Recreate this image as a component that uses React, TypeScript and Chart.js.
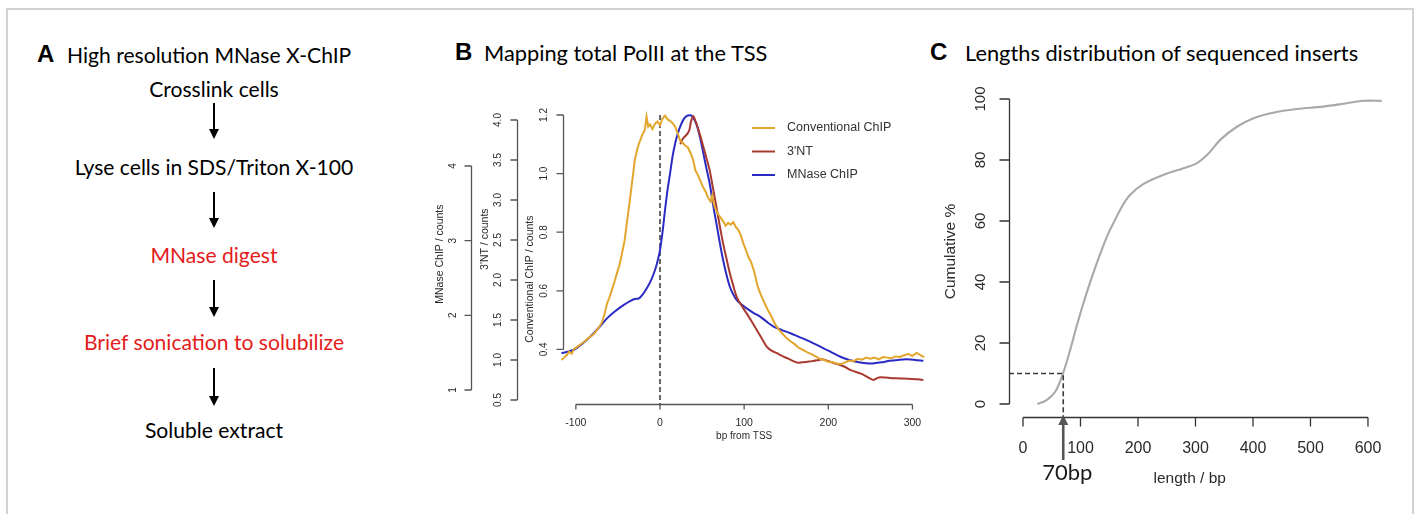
import React, { useEffect, useRef } from "react";
import { Chart, registerables } from "chart.js";

Chart.register(...registerables);

// ---------- Panel B data (bp from TSS, conventional-ChIP-scaled counts) ----------
const conventionalBp = [-117, -114, -111, -108, -105, -102, -99, -96, -93, -90, -87, -84, -81, -78, -75, -72, -69, -66, -63, -60, -57, -54, -51, -48, -45, -42, -39, -36, -33, -30, -27, -24, -21, -18, -16, -14, -12, -9, -6, -3, 0, 3, 6, 9, 12, 15, 18, 21, 24, 27, 30, 33, 36, 39, 42, 45, 48, 51, 54, 57, 60, 62, 64, 66, 69, 72, 75, 78, 81, 84, 87, 90, 93, 96, 99, 102, 105, 108, 112, 116, 120, 124, 128, 132, 136, 140, 145, 150, 155, 160, 165, 170, 175, 180, 185, 190, 195, 200, 205, 210, 215, 220, 225, 230, 235, 240, 245, 250, 255, 260, 265, 270, 275, 280, 285, 290, 295, 300, 305, 310, 314];
const conventionalCounts = [0.364, 0.372, 0.38, 0.392, 0.385, 0.402, 0.408, 0.414, 0.42, 0.426, 0.434, 0.441, 0.447, 0.455, 0.466, 0.478, 0.492, 0.52, 0.556, 0.578, 0.605, 0.632, 0.662, 0.69, 0.73, 0.773, 0.84, 0.905, 0.975, 1.045, 1.085, 1.11, 1.132, 1.15, 1.194, 1.16, 1.168, 1.152, 1.17, 1.178, 1.165, 1.188, 1.198, 1.185, 1.18, 1.172, 1.16, 1.138, 1.112, 1.105, 1.095, 1.09, 1.072, 1.05, 1.012, 0.995, 0.975, 0.955, 0.94, 0.918, 0.905, 0.925, 0.895, 0.88, 0.862, 0.85, 0.838, 0.822, 0.832, 0.826, 0.835, 0.818, 0.808, 0.79, 0.762, 0.74, 0.715, 0.7, 0.665, 0.615, 0.585, 0.56, 0.535, 0.515, 0.49, 0.472, 0.455, 0.44, 0.428, 0.418, 0.405, 0.398, 0.39, 0.384, 0.376, 0.368, 0.364, 0.358, 0.356, 0.352, 0.35, 0.356, 0.362, 0.36, 0.368, 0.365, 0.372, 0.368, 0.372, 0.366, 0.374, 0.372, 0.37, 0.376, 0.374, 0.38, 0.384, 0.378, 0.388, 0.38, 0.374];

const threeNTBp = [24, 27, 30, 33, 35, 37, 39.6, 42, 44, 48, 51.5, 55, 59, 63, 67, 71, 75, 79, 83, 87, 91, 95, 99, 103, 109, 115, 121, 127, 133, 139, 145, 151, 157, 163, 169, 175, 181, 187, 193, 197, 202, 208, 214, 220, 226, 232, 238, 244, 250, 254, 258, 262, 268, 275, 285, 295, 305, 313];
const threeNTCounts = [1.1, 1.118, 1.128, 1.138, 1.15, 1.18, 1.197, 1.18, 1.165, 1.128, 1.092, 1.055, 1.012, 0.95, 0.887, 0.822, 0.762, 0.71, 0.66, 0.618, 0.58, 0.558, 0.54, 0.523, 0.495, 0.466, 0.437, 0.409, 0.395, 0.387, 0.378, 0.37, 0.362, 0.355, 0.356, 0.358, 0.36, 0.363, 0.366, 0.363, 0.358, 0.352, 0.347, 0.34, 0.33, 0.324, 0.318, 0.31, 0.3, 0.296, 0.302, 0.305, 0.304, 0.302, 0.301, 0.3, 0.298, 0.296];

const mnaseBp = [-117, -110, -103, -93, -83, -73, -63, -53, -43, -35, -30, -25, -20, -15, -10, -6, -3, 0, 3, 6, 9, 12, 15, 18, 21, 24, 28, 32, 36, 38, 41, 44, 48, 51.5, 55, 59, 63, 67, 71, 75, 79, 83, 87, 91, 97, 103, 111, 119, 127, 135, 145, 155, 165, 175, 185, 195, 205, 215, 225, 235, 245, 253, 263, 273, 283, 293, 303, 313];
const mnaseCounts = [0.387, 0.392, 0.398, 0.418, 0.443, 0.473, 0.506, 0.531, 0.552, 0.566, 0.572, 0.574, 0.59, 0.612, 0.64, 0.67, 0.7, 0.739, 0.8, 0.876, 0.945, 1.001, 1.06, 1.103, 1.135, 1.16, 1.185, 1.197, 1.199, 1.196, 1.183, 1.163, 1.118, 1.069, 1.02, 0.967, 0.895, 0.83, 0.765, 0.705, 0.655, 0.614, 0.588, 0.569, 0.553, 0.54, 0.525, 0.512, 0.494, 0.478, 0.466, 0.455, 0.443, 0.431, 0.417, 0.403, 0.388, 0.374, 0.364, 0.357, 0.353, 0.352, 0.356, 0.361, 0.364, 0.366, 0.364, 0.361];

const seriesLabels = ["Conventional ChIP", "3'NT", "MNase ChIP"];
const seriesColors = ["#e3a62c", "#a83a30", "#2b2bc4"];

// Tick labels for panel B
const bpTicks = [-100, 0, 100, 200, 300];
const conventionalTicks = [0.4, 0.6, 0.8, 1.0, 1.2];
const threeNTTicks = [0.5, 1.0, 1.5, 2.0, 2.5, 3.0, 3.5, 4.0];
const mnaseTicks = [1, 2, 3, 4];
const tssMarkBp = 0;
const tssMarkTop = 1.2;

// ---------- Panel C data ----------
const lengthBp = [25, 41, 56, 69, 82, 93, 105, 122, 140, 151, 157, 172, 186, 209, 244, 279, 302, 320, 343, 372, 401, 435, 476, 522, 563, 592, 624];
const cumulativePct = [0, 1.3, 4.0, 9.7, 17.7, 25.3, 33.0, 42.8, 52.1, 57.0, 59.2, 64.7, 68.5, 72.1, 75.1, 77.3, 78.9, 81.6, 86.6, 90.9, 93.7, 95.5, 96.7, 97.5, 98.6, 99.4, 99.4];
const lengthTicks = [0, 100, 200, 300, 400, 500, 600];
const pctTicks = [0, 20, 40, 60, 80, 100];
const cutoffBp = 70;
const cutoffPct = 10;
const cutoffLabel = "70bp";

const fmt1 = (v: number) => v.toFixed(1);
const fmt0 = (v: number) => String(v);

// R-style axes drawn through the chart's own scales
const rAxesPlugin = {
  id: "rAxes",
  afterDraw(chart: any, _args: any, opts: any) {
    const ctx = chart.ctx as CanvasRenderingContext2D;
    const ca = chart.chartArea;
    ctx.save();
    for (const a of opts.axes || []) {
      const s = chart.scales[a.scale];
      const px = a.ticks.map((v: number) => s.getPixelForValue(v));
      ctx.strokeStyle = a.lineColor || "#555";
      ctx.lineWidth = a.lineWidth || 1.3;
      ctx.fillStyle = a.textColor || "#2a2a2a";
      if (a.side === "left") {
        const x = Math.round(ca.left + a.offset) + 0.5;
        ctx.beginPath();
        ctx.moveTo(x, Math.min(...px));
        ctx.lineTo(x, Math.max(...px));
        for (const p of px) {
          ctx.moveTo(x, p);
          ctx.lineTo(x - a.tickLen, p);
        }
        ctx.stroke();
        ctx.font = a.font;
        ctx.textAlign = "center";
        ctx.textBaseline = "middle";
        a.ticks.forEach((v: number, i: number) => {
          ctx.save();
          ctx.translate(x - a.labelGap, px[i]);
          ctx.rotate(-Math.PI / 2);
          ctx.fillText(a.format(v), 0, 0);
          ctx.restore();
        });
        if (a.title) {
          ctx.font = a.titleFont;
          ctx.save();
          ctx.translate(x - a.titleGap, s.getPixelForValue(a.titleAt));
          ctx.rotate(-Math.PI / 2);
          ctx.fillText(a.title, 0, 0);
          ctx.restore();
        }
      } else {
        const y = Math.round(ca.bottom + a.offset) + 0.5;
        ctx.beginPath();
        ctx.moveTo(Math.min(...px), y);
        ctx.lineTo(Math.max(...px), y);
        for (const p of px) {
          ctx.moveTo(p, y);
          ctx.lineTo(p, y + a.tickLen);
        }
        ctx.stroke();
        ctx.font = a.font;
        ctx.textAlign = "center";
        ctx.textBaseline = "middle";
        a.ticks.forEach((v: number, i: number) => {
          ctx.fillText(a.format(v), px[i], y + a.labelGap);
        });
        if (a.title) {
          ctx.font = a.titleFont;
          ctx.fillText(a.title, s.getPixelForValue(a.titleAt), y + a.titleGap);
        }
      }
    }
    ctx.restore();
  },
};

const rLegendPlugin = {
  id: "rLegend",
  afterDraw(chart: any, _args: any, opts: any) {
    if (!opts || !opts.show) return;
    const ctx = chart.ctx as CanvasRenderingContext2D;
    const ca = chart.chartArea;
    ctx.save();
    ctx.font = opts.font;
    ctx.textBaseline = "middle";
    ctx.textAlign = "left";
    chart.data.datasets.forEach((ds: any, i: number) => {
      const y = ca.top + opts.top + i * opts.rowGap;
      const x0 = ca.right + opts.right;
      ctx.strokeStyle = ds.borderColor;
      ctx.lineWidth = 2;
      ctx.beginPath();
      ctx.moveTo(x0, y);
      ctx.lineTo(x0 + opts.lineLen, y);
      ctx.stroke();
      ctx.fillStyle = opts.color;
      ctx.fillText(ds.label, x0 + opts.lineLen + opts.textGap, y);
    });
    ctx.restore();
  },
};

const tssLinePlugin = {
  id: "tssLine",
  beforeDatasetsDraw(chart: any) {
    const ctx = chart.ctx as CanvasRenderingContext2D;
    const x = chart.scales.x.getPixelForValue(tssMarkBp);
    const yTop = chart.scales.y.getPixelForValue(tssMarkTop);
    ctx.save();
    ctx.strokeStyle = "#444";
    ctx.lineWidth = 1.6;
    ctx.setLineDash([5, 3]);
    ctx.beginPath();
    ctx.moveTo(x, yTop);
    ctx.lineTo(x, chart.chartArea.bottom);
    ctx.stroke();
    ctx.restore();
  },
};

const cutoffPlugin = {
  id: "cutoff",
  afterDraw(chart: any) {
    const ctx = chart.ctx as CanvasRenderingContext2D;
    const ca = chart.chartArea;
    const x = chart.scales.x.getPixelForValue(cutoffBp);
    const y = chart.scales.y.getPixelForValue(cutoffPct);
    const axisY = ca.bottom + 7;
    ctx.save();
    ctx.strokeStyle = "#3a3a3a";
    ctx.lineWidth = 1.6;
    ctx.setLineDash([5, 3]);
    ctx.beginPath();
    ctx.moveTo(ca.left, y);
    ctx.lineTo(x, y);
    ctx.lineTo(x, axisY);
    ctx.stroke();
    ctx.setLineDash([]);
    // arrow
    ctx.strokeStyle = "#555";
    ctx.fillStyle = "#555";
    ctx.lineWidth = 2.6;
    ctx.beginPath();
    ctx.moveTo(x, axisY + 43);
    ctx.lineTo(x, axisY + 6);
    ctx.stroke();
    ctx.beginPath();
    ctx.moveTo(x, axisY - 2);
    ctx.lineTo(x - 5, axisY + 8);
    ctx.lineTo(x + 5, axisY + 8);
    ctx.closePath();
    ctx.fill();
    ctx.fillStyle = "#1a1a1a";
    ctx.font = "22px Lato";
    ctx.textAlign = "center";
    ctx.textBaseline = "alphabetic";
    ctx.fillText(cutoffLabel, x + 4, axisY + 63);
    ctx.restore();
  },
};

function PanelB() {
  const ref = useRef<HTMLCanvasElement>(null);
  useEffect(() => {
    const zip = (xs: number[], ys: number[]) => xs.map((x, i) => ({ x, y: ys[i] }));
    const f = (n: number) => `${n}px 'Liberation Sans', Arial`;
    const chart = new Chart(ref.current!, {
      type: "line",
      data: {
        datasets: [
          { label: seriesLabels[0], data: zip(conventionalBp, conventionalCounts), borderColor: seriesColors[0], borderWidth: 2, pointRadius: 0, tension: 0 },
          { label: seriesLabels[1], data: zip(threeNTBp, threeNTCounts), borderColor: seriesColors[1], borderWidth: 2, pointRadius: 0, tension: 0.3 },
          { label: seriesLabels[2], data: zip(mnaseBp, mnaseCounts), borderColor: seriesColors[2], borderWidth: 2, pointRadius: 0, tension: 0.3 },
        ],
      },
      options: {
        responsive: false,
        animation: false,
        events: [],
        layout: { padding: { left: 141, right: 14, top: 18, bottom: 56 } },
        scales: {
          x: { type: "linear", min: -117.65, max: 316.1, display: false },
          y: { type: "linear", min: 0.2137, max: 1.2239, display: false },
          y2: { type: "linear", min: 0.45, max: 4.15, display: false },
          y3: { type: "linear", min: 0.8125, max: 4.777, display: false },
        },
        plugins: {
          legend: { display: false },
          tooltip: { enabled: false },
          rLegend: { show: true, font: f(12.5), color: "#333", top: 20, rowGap: 23.5, right: -174, lineLen: 23, textGap: 12 },
          rAxes: {
            axes: [
              { scale: "x", side: "bottom", offset: 0, tickLen: 5, ticks: bpTicks, format: fmt0, labelGap: 19, font: f(10.5), title: "bp from TSS", titleAt: 100, titleGap: 32, titleFont: f(10) },
              { scale: "y", side: "left", offset: 2, tickLen: 7, ticks: conventionalTicks, format: fmt1, labelGap: 19, font: f(10), title: "Conventional ChIP / counts", titleAt: 0.64, titleGap: 33, titleFont: f(10.5) },
              { scale: "y2", side: "left", offset: -44, tickLen: 7, ticks: threeNTTicks, format: fmt1, labelGap: 19, font: f(10), title: "3'NT / counts", titleAt: 2.51, titleGap: 32, titleFont: f(10.5) },
              { scale: "y3", side: "left", offset: -90, tickLen: 7, ticks: mnaseTicks, format: fmt0, labelGap: 18, font: f(10), title: "MNase ChIP / counts", titleAt: 2.82, titleGap: 31, titleFont: f(10.5) },
            ],
          },
        } as any,
      },
      plugins: [tssLinePlugin, rAxesPlugin, rLegendPlugin],
    });
    return () => chart.destroy();
  }, []);
  return <canvas ref={ref} width={520} height={370} style={{ position: "absolute", left: 420, top: 90 }} />;
}

function PanelC() {
  const ref = useRef<HTMLCanvasElement>(null);
  useEffect(() => {
    const chart = new Chart(ref.current!, {
      type: "line",
      data: {
        datasets: [
          { label: "Cumulative %", data: lengthBp.map((x, i) => ({ x, y: cumulativePct[i] })), borderColor: "#a9a9a9", borderWidth: 2.1, pointRadius: 0, tension: 0.35 },
        ],
      },
      options: {
        responsive: false,
        animation: false,
        events: [],
        layout: { padding: { left: 79, right: 10, top: 15, bottom: 90 } },
        scales: {
          x: { type: "linear", min: -24.35, max: 638.3, display: false },
          y: { type: "linear", min: -1.967, max: 101.31, display: false },
        },
        plugins: {
          legend: { display: false },
          tooltip: { enabled: false },
          rAxes: {
            axes: [
              { scale: "x", side: "bottom", offset: 7, tickLen: 9, ticks: lengthTicks, format: fmt0, labelGap: 31, font: "16px 'Liberation Sans', Arial", title: "length / bp", titleAt: 290, titleGap: 61, titleFont: "15.5px 'Liberation Sans', Arial", lineColor: "#333" },
              { scale: "y", side: "left", offset: 0, tickLen: 10, ticks: pctTicks, format: fmt0, labelGap: 29, font: "15px 'Liberation Sans', Arial", title: "Cumulative %", titleAt: 50, titleGap: 59, titleFont: "15.5px 'Liberation Sans', Arial", lineColor: "#333" },
            ],
          },
        } as any,
      },
      plugins: [rAxesPlugin, cutoffPlugin],
    });
    return () => chart.destroy();
  }, []);
  return <canvas ref={ref} width={470} height={420} style={{ position: "absolute", left: 930, top: 80 }} />;
}

function Arrow({ x, y1, y2 }: { x: number; y1: number; y2: number }) {
  return (
    <g>
      <line x1={x} y1={y1} x2={x} y2={y2 - 8} stroke="#000" strokeWidth={2} />
      <polygon points={`${x - 5},${y2 - 10} ${x + 5},${y2 - 10} ${x},${y2}`} fill="#000" />
    </g>
  );
}

export default function App() {
  const txt = { fontFamily: "Lato, 'Open Sans', sans-serif", fontSize: 21.1 } as const;
  const head = { fontFamily: "Lato, 'Open Sans', sans-serif", fontSize: 21.8 } as const;
  const big = { fontFamily: "'Liberation Sans', Arial, sans-serif", fontSize: 24, fontWeight: 700 } as const;
  return (
    <div style={{ position: "absolute", left: 0, top: 0, width: 1414, height: 514, background: "#fff", overflow: "hidden" }}>
      <div style={{ position: "absolute", left: 6, top: 8, width: 1404, height: 520, border: "2px solid #d2d2d2" }} />
      <svg width={1414} height={514} style={{ position: "absolute", left: 0, top: 0 }}>
        <text x={37} y={62} style={big}>A</text>
        <text x={67} y={63} style={txt}>High resolution MNase X-ChIP</text>
        <text x={214} y={97} textAnchor="middle" style={txt}>Crosslink cells</text>
        <Arrow x={214} y1={103} y2={139} />
        <text x={214} y={175} textAnchor="middle" style={txt}>Lyse cells in SDS/Triton X-100</text>
        <Arrow x={214} y1={192} y2={228} />
        <text x={214} y={263} textAnchor="middle" style={txt} fill="#e31c1c">MNase digest</text>
        <Arrow x={214} y1={280} y2={317} />
        <text x={214} y={350} textAnchor="middle" style={txt} fill="#e31c1c">Brief sonication to solubilize</text>
        <Arrow x={214} y1={368} y2={406} />
        <text x={214} y={438} textAnchor="middle" style={txt}>Soluble extract</text>

        <text x={455} y={60} style={big}>B</text>
        <text x={484} y={61} style={head}>Mapping total PolII at the TSS</text>
        <text x={930} y={60} style={big}>C</text>
        <text x={965} y={61} style={head}>Lengths distribution of sequenced inserts</text>
      </svg>
      <PanelB />
      <PanelC />
    </div>
  );
}
